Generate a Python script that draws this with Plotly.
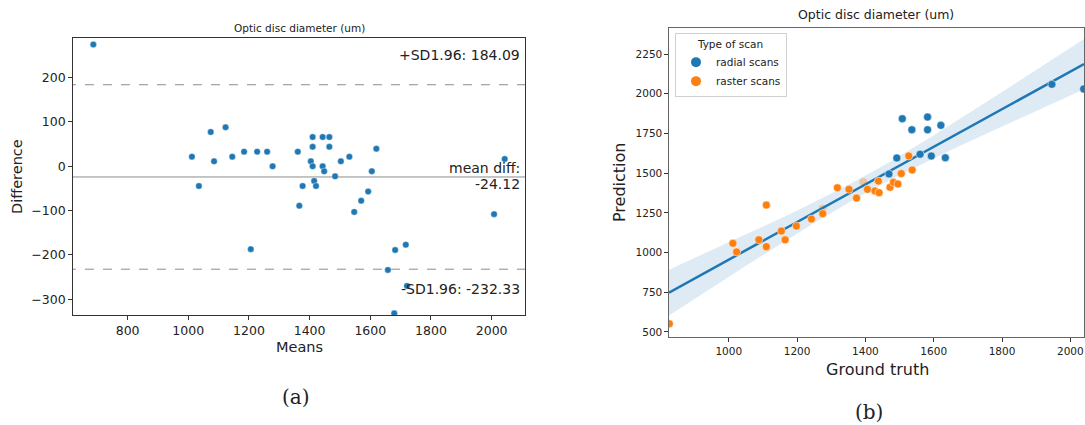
import numpy as np
import plotly.graph_objects as go

# ---------------- data: (a) Bland-Altman ----------------
ba_means = [687, 1012, 1035, 1074, 1085, 1123, 1145, 1184, 1206, 1227, 1260, 1278,
            1361, 1366, 1377, 1404, 1410, 1410, 1410, 1415, 1421, 1443, 1443, 1448,
            1465, 1465, 1484, 1503, 1531, 1547, 1570, 1593, 1605, 1620, 1658, 1679,
            1682, 1717, 1721, 2008, 2043]
ba_diffs = [275, 21.7, -44.5, 77.4, 11.3, 88, 21.7, 33, -187, 33, 33, 0,
            33, -89, -44.5, 11.3, 66, 44, 0, -33, -44.5, 66, 0, -11.3,
            66, 44, -22.6, 11.3, 21.7, -103, -77.6, -57, -11.3, 39.7, -234, -332,
            -189, -177, -270, -108, 16.5]
mean_diff = -24.12
sd_upper = 184.09
sd_lower = -232.33

# ---------------- data: (b) regression ----------------
raster_gt = [826, 1012, 1023, 1088, 1110, 1110, 1154, 1165, 1198, 1242, 1275, 1318,
             1352, 1374, 1406, 1428, 1438, 1440, 1472, 1482, 1495, 1505, 1527, 1537]
raster_pred = [552, 1058, 1004, 1081, 1299, 1037, 1136, 1080, 1167, 1211, 1245, 1408,
               1398, 1343, 1398, 1388, 1450, 1377, 1411, 1442, 1432, 1497, 1608, 1520]
faint_gt = [1275, 1394]
faint_pred = [1276, 1445]
radial_gt = [1469, 1492, 1508, 1536, 1560, 1582, 1582, 1593, 1621, 1634, 1946, 2039]
radial_pred = [1495, 1595, 1843, 1773, 1619, 1853, 1773, 1608, 1801, 1597, 2059, 2030]

BLUE = "#1f77b4"
ORANGE = "#ff7f0e"
FONT = "DejaVu Sans"
W, H = 1085, 425

# regression fit + confidence band (bootstrap-like width as drawn in the source)
gx = np.array(raster_gt + faint_gt + radial_gt, float)
gy = np.array(raster_pred + faint_pred + radial_pred, float)
n = len(gx)
b1, b0 = np.polyfit(gx, gy, 1)
res = gy - (b0 + b1 * gx)
s = np.sqrt(np.sum(res ** 2) / (n - 2))
xr = [825, 2040]
xs = np.linspace(xr[0], xr[1], 100)
ys = b0 + b1 * xs
se = s * np.sqrt(1 / n + (xs - gx.mean()) ** 2 / np.sum((gx - gx.mean()) ** 2))
ci = 2.02 * se * 1.6

fig = go.Figure()

# (a)
for yv, dash in [(sd_upper, "dash"), (sd_lower, "dash"), (mean_diff, "solid")]:
    fig.add_trace(go.Scatter(x=[600, 2200], y=[yv, yv], mode="lines",
                             line=dict(color="#8c8c8c", width=1, dash=dash),
                             xaxis="x", yaxis="y", showlegend=False, hoverinfo="skip"))
fig.add_trace(go.Scatter(x=ba_means, y=ba_diffs, mode="markers",
                         marker=dict(color=BLUE, size=6.5, line=dict(color="white", width=0.4)),
                         xaxis="x", yaxis="y", showlegend=False))

# (b)
fig.add_trace(go.Scatter(x=np.concatenate([xs, xs[::-1]]),
                         y=np.concatenate([ys + ci, (ys - ci)[::-1]]),
                         fill="toself", fillcolor="rgba(31,119,180,0.15)",
                         line=dict(width=0), xaxis="x2", yaxis="y2",
                         showlegend=False, hoverinfo="skip"))
fig.add_trace(go.Scatter(x=faint_gt, y=faint_pred, mode="markers",
                         marker=dict(color=ORANGE, size=8, opacity=0.35),
                         xaxis="x2", yaxis="y2", showlegend=False))
fig.add_trace(go.Scatter(x=xs, y=ys, mode="lines", line=dict(color=BLUE, width=2.5),
                         xaxis="x2", yaxis="y2", showlegend=False, hoverinfo="skip"))
fig.add_trace(go.Scatter(x=radial_gt, y=radial_pred, mode="markers", name="radial scans",
                         marker=dict(color=BLUE, size=8, line=dict(color="white", width=0.5)),
                         xaxis="x2", yaxis="y2"))
fig.add_trace(go.Scatter(x=raster_gt, y=raster_pred, mode="markers", name="raster scans",
                         marker=dict(color=ORANGE, size=8, line=dict(color="white", width=0.5)),
                         xaxis="x2", yaxis="y2"))

def px(xp):
    return xp / W

def py(yp):
    return 1 - yp / H

axis_common = dict(showline=True, linecolor="#333333", linewidth=1, mirror=True,
                   ticks="outside", ticklen=3.5, tickcolor="#333333", showgrid=False,
                   zeroline=False, tickfont=dict(family=FONT, color="#222222"))

fig.update_layout(
    width=W, height=H, margin=dict(l=0, r=0, t=0, b=0),
    plot_bgcolor="white", paper_bgcolor="white",
    font=dict(family=FONT, color="#222222"),
    xaxis=dict(domain=[px(72.7), px(525)], range=[619, 2110],
               tickvals=[800, 1000, 1200, 1400, 1600, 1800, 2000], anchor="y",
               **{**axis_common, "tickfont": dict(family=FONT, size=12.5, color="#222222")}),
    yaxis=dict(domain=[py(315), py(38)], range=[-335.7, 289.6],
               tickvals=[-300, -200, -100, 0, 100, 200],
               ticktext=["\u2212300", "\u2212200", "\u2212100", "0", "100", "200"], anchor="x",
               **{**axis_common, "tickfont": dict(family=FONT, size=12.5, color="#222222")}),
    xaxis2=dict(domain=[px(669), px(1084)], range=xr,
                tickvals=[1000, 1200, 1400, 1600, 1800, 2000], anchor="y2",
                **{**axis_common, "linecolor": "#666666", "linewidth": 1.3,
                   "tickfont": dict(family=FONT, size=10.5, color="#222222")}),
    yaxis2=dict(domain=[py(337.3), py(27.7)], range=[466.6, 2415.6],
                tickvals=[500, 750, 1000, 1250, 1500, 1750, 2000, 2250], anchor="x2",
                **{**axis_common, "linecolor": "#666666", "linewidth": 1.3,
                   "tickfont": dict(family=FONT, size=10.5, color="#222222")}),
    legend=dict(x=px(675), y=py(33), xanchor="left", yanchor="top",
                bgcolor="white", bordercolor="#d0d0d0", borderwidth=1,
                font=dict(family=FONT, size=10.5), tracegroupgap=0, itemsizing="constant",
                title=dict(text="Type of scan", side="top center", font=dict(family=FONT, size=10.5))),
)

ann = []
def add(text, x, y, size, xanchor="center", yanchor="middle", angle=0, family=FONT, xref="paper", yref="paper"):
    ann.append(dict(text=text, x=x, y=y, xref=xref, yref=yref, showarrow=False,
                    xanchor=xanchor, yanchor=yanchor, textangle=angle,
                    font=dict(family=family, size=size, color="#222222")))

# (a) texts
add("Optic disc diameter (um)", px(299), py(28), 10.5)
add("Difference", px(17), py(177), 14.5, angle=-90)
add("Means", px(299), py(347), 14.5)
add("(a)", px(296), py(397), 20, family="DejaVu Serif")
add("+SD1.96: 184.09", 2101, 251, 14, xanchor="right", xref="x", yref="y")
add("mean diff:", 2101, -4, 14, xanchor="right", xref="x", yref="y")
add("-24.12", 2101, -41, 14, xanchor="right", xref="x", yref="y")
add("-SD1.96: -232.33", 2101, -276, 14, xanchor="right", xref="x", yref="y")

# (b) texts
add("Optic disc diameter (um)", px(876), py(15), 12.5)
add("Prediction", px(619), py(183), 16, angle=-90)
add("Ground truth", px(877), py(369), 16)
add("(b)", px(869), py(412), 20, family="DejaVu Serif")

fig.update_layout(annotations=ann)
fig.write_html("out.html")
